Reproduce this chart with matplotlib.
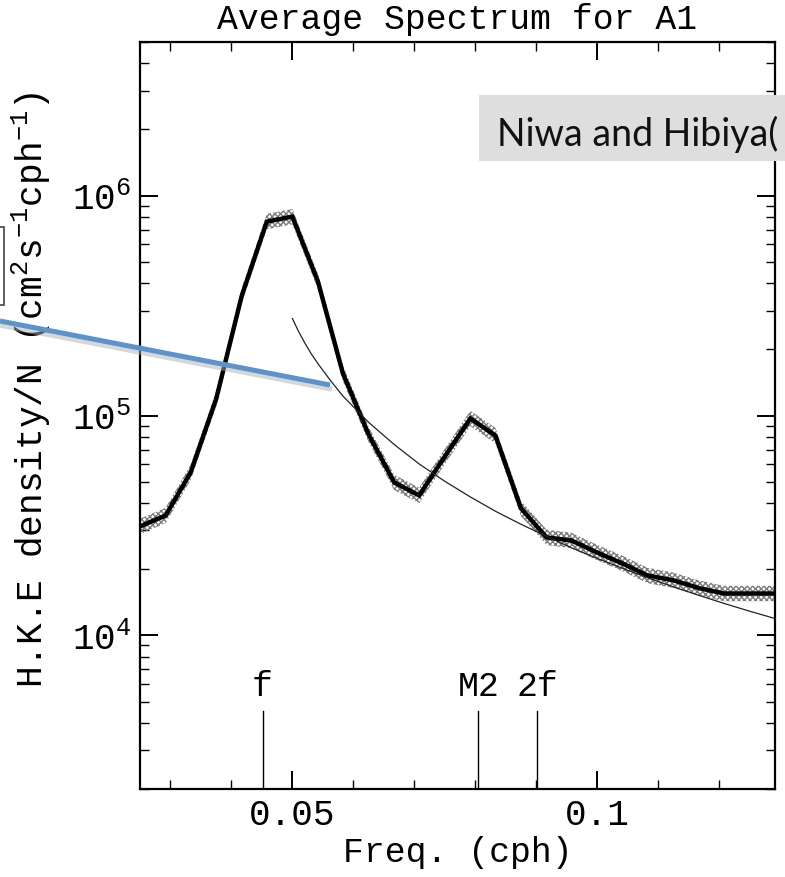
import matplotlib
matplotlib.use("Agg")
import matplotlib.pyplot as plt
from matplotlib.patches import Rectangle
from matplotlib.lines import Line2D
from matplotlib.ticker import FixedLocator, LogLocator, NullFormatter

# ---------------- data ----------------
freq = [0.0250, 0.0292, 0.0333, 0.0375, 0.0417, 0.0458, 0.0500, 0.0542, 0.0583,
        0.0625, 0.0667, 0.0708, 0.0750, 0.0792, 0.0833, 0.0875, 0.0917, 0.0958,
        0.1000, 0.1042, 0.1083, 0.1125, 0.1167, 0.1208, 0.1250, 0.1292]
hke = [31300, 35100, 55000, 119000, 351000, 762000, 803000, 406000, 155000,
       82000, 49600, 43300, 65100, 96900, 81100, 37800, 27900, 27000,
       23800, 21200, 18700, 17800, 16400, 15500, 15500, 15500]
band_dex = 0.035

fit_freq = [0.0500, 0.0510, 0.0521, 0.0531, 0.0542, 0.0563, 0.0583, 0.0625,
            0.0667, 0.0708, 0.0750, 0.0792, 0.0833, 0.0875, 0.0917, 0.0958,
            0.1000, 0.1042, 0.1083, 0.1125, 0.1167, 0.1208, 0.1250, 0.1292]
fit_hke = [276000, 241400, 212200, 190700, 172000, 143600, 122500, 93100,
           73800, 60200, 50200, 42600, 36700, 32000, 28200, 25000,
           22380, 20150, 18260, 16620, 15200, 13970, 12880, 11920]

marker_labels = ["f", "M2", "2f"]
marker_freqs = [0.0451, 0.0805, 0.0902]

x_major = [0.05, 0.1]
x_major_labels = ["0.05", "0.1"]
x_minor = [0.03, 0.04, 0.06, 0.07, 0.08, 0.09, 0.11, 0.12]

title = "Average Spectrum for A1"
xlabel = "Freq. (cph)"
ylabel = r"H.K.E density/N (cm$^2$s$^{-1}$cph$^{-1}$)"
note_text = "Niwa and Hibiya("

# ---------------- style ----------------
mono = "Liberation Mono"
plt.rcParams["font.family"] = [mono, "DejaVu Sans"]
plt.rcParams["mathtext.fontset"] = "custom"
plt.rcParams["mathtext.rm"] = mono
plt.rcParams["mathtext.it"] = mono
plt.rcParams["mathtext.bf"] = mono

W, H = 785, 878
fig = plt.figure(figsize=(W / 100, H / 100), dpi=100)
ax = fig.add_axes([140 / W, 1 - 790 / H, 635 / W, 747 / H])

ax.set_yscale("log")
ax.set_xlim(0.025, 0.12917)
ax.set_ylim(2000, 5e6)

lo = [v / 10 ** band_dex for v in hke]
hi = [v * 10 ** band_dex for v in hke]
ax.fill_between(freq, lo, hi, facecolor="none", edgecolor="#7a7a7a",
                hatch="xxxxxx", linewidth=0, zorder=2)
ax.plot(freq, hke, color="black", lw=3.2, solid_joinstyle="miter", zorder=3)
ax.plot(fit_freq, fit_hke, color="#222222", lw=0.9, zorder=4)

# spectral markers
for lab, fx in zip(marker_labels, marker_freqs):
    ax.axvline(fx, ymin=0, ymax=0.105, color="black", lw=1.0)
    ax.text(fx, 0.117, lab, transform=ax.get_xaxis_transform(),
            ha="center", va="bottom", fontsize=25, family=[mono])

# ticks
ax.xaxis.set_major_locator(FixedLocator(x_major))
ax.set_xticklabels(x_major_labels)
ax.xaxis.set_minor_locator(FixedLocator(x_minor))
ax.yaxis.set_major_locator(LogLocator(base=10, numticks=10))
ax.yaxis.set_minor_locator(LogLocator(base=10, subs=range(2, 10), numticks=100))
ax.yaxis.set_minor_formatter(NullFormatter())
ax.tick_params(which="both", direction="in", top=True, right=True,
               labelsize=26, color="black")
ax.tick_params(axis="x", which="major", length=13, width=1.4, pad=6)
ax.tick_params(axis="y", which="major", length=13, width=1.4, pad=6)
ax.tick_params(which="minor", length=6.5, width=1.0)
for s in ax.spines.values():
    s.set_linewidth(1.6)

ax.set_title(title, fontsize=25, pad=10)
ax.set_xlabel(xlabel, fontsize=25, labelpad=2)
ax.set_ylabel(ylabel, fontsize=26)
ax.yaxis.set_label_coords(-0.137, 0.535)

# ---------------- slide overlay ----------------
fig.patches.append(Rectangle((479 / W, 1 - 162 / H), (W - 479) / W, 66 / H,
                             transform=fig.transFigure, facecolor="#dedede",
                             edgecolor="none", zorder=10))
fig.text(497 / W, 1 - 134 / H, note_text, fontsize=27, family=["Lato", "DejaVu Sans"],
         color="#111111", va="center", ha="left", zorder=11)

fig.patches.append(Rectangle((-10 / W, 1 - 306 / H), 14 / W, 78 / H,
                             transform=fig.transFigure, facecolor="white",
                             edgecolor="#444444", lw=1.2, zorder=10))

shadow = Line2D([0 / W, 332 / W], [1 - 326 / H, 1 - 390 / H], transform=fig.transFigure,
                color="#b0b0b0", lw=4, alpha=0.5, zorder=9, solid_capstyle="butt")
blue = Line2D([0 / W, 330 / W], [1 - 322 / H, 1 - 386 / H], transform=fig.transFigure,
              color="#5b93cc", lw=3.6, zorder=10, solid_capstyle="butt")
fig.lines.extend([shadow, blue])

fig.savefig("out.png", dpi=100)
